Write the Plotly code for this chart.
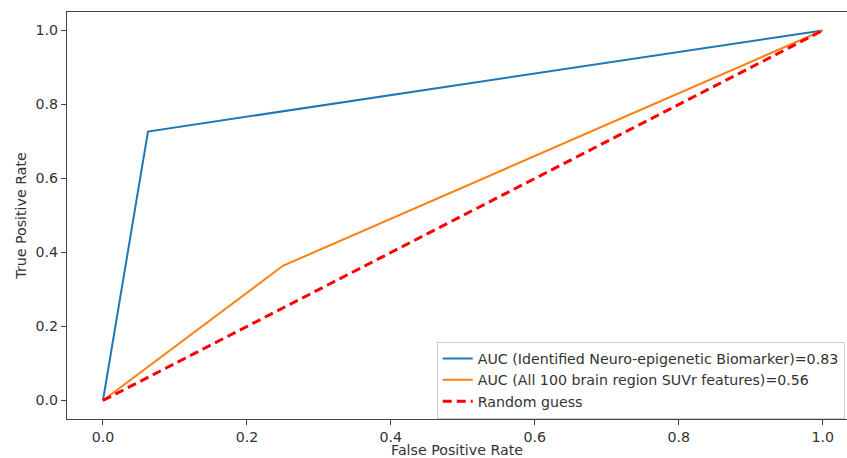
import plotly.graph_objects as go

fpr_bio = [0.0, 0.0625, 1.0]
tpr_bio = [0.0, 0.727, 1.0]
fpr_suvr = [0.0, 0.25, 1.0]
tpr_suvr = [0.0, 0.364, 1.0]
fpr_rand = [0.0, 1.0]
tpr_rand = [0.0, 1.0]
names = ["AUC (Identified Neuro-epigenetic Biomarker)=0.83",
         "AUC (All 100 brain region SUVr features)=0.56",
         "Random guess"]
ticks = [0.0, 0.2, 0.4, 0.6, 0.8, 1.0]
tick_text = ["0.0", "0.2", "0.4", "0.6", "0.8", "1.0"]

font = "DejaVu Sans"
fs = 14.2
fig = go.Figure()
fig.add_trace(go.Scatter(x=fpr_bio, y=tpr_bio, mode="lines", name=names[0],
                         line=dict(color="#1f77b4", width=2)))
fig.add_trace(go.Scatter(x=fpr_suvr, y=tpr_suvr, mode="lines", name=names[1],
                         line=dict(color="#ff7f0e", width=2)))
fig.add_trace(go.Scatter(x=fpr_rand, y=tpr_rand, mode="lines", name=names[2],
                         line=dict(color="#ff0000", width=3, dash="9px,5px")))

axis_common = dict(showgrid=False, zeroline=False, showline=True, linecolor="#444",
                   linewidth=1.3, ticks="outside", ticklen=5, tickcolor="#444",
                   tickfont=dict(family=font, size=fs, color="#333"),
                   tickvals=ticks, ticktext=tick_text)
fig.update_xaxes(range=[-0.05, 1.0338], mirror=True,
                 title=dict(text="False Positive Rate", font=dict(family=font, size=fs, color="#333"), standoff=3),
                 **axis_common)
fig.update_yaxes(range=[-0.05, 1.05],
                 title=dict(text="True Positive Rate", font=dict(family=font, size=fs, color="#333"), standoff=5),
                 **axis_common)
fig.update_layout(
    width=847, height=458,
    margin=dict(l=67, r=0, t=12, b=39),
    plot_bgcolor="white", paper_bgcolor="white",
    font=dict(family=font, size=fs, color="#333"),
    legend=dict(x=0.474, y=0.19, xanchor="left", yanchor="top",
                bgcolor="rgba(255,255,255,0.8)", bordercolor="#ccc", borderwidth=1,
                font=dict(family=font, size=fs, color="#333"),
                tracegroupgap=0, itemwidth=30),
    showlegend=True,
)
fig.write_html("out.html")
